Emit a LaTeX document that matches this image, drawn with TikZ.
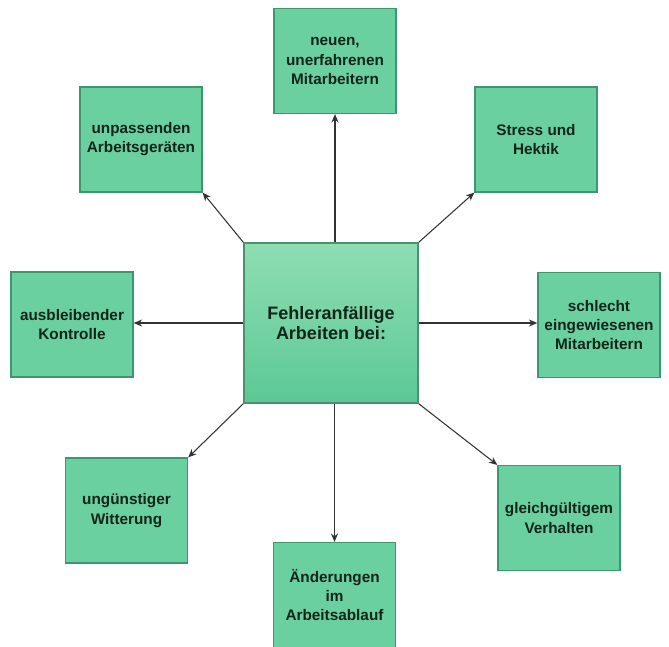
\documentclass[tikz,border=0pt]{standalone}
\usepackage{fontspec}
\setmainfont{Liberation Sans}
\definecolor{boxgreen}{RGB}{106, 208, 160}
\definecolor{boxedge}{RGB}{62, 150, 108}
\definecolor{toplight}{RGB}{142, 222, 178}
\definecolor{botdark}{RGB}{92, 200, 150}
\definecolor{textdark}{RGB}{18, 36, 24}
\usetikzlibrary{arrows.meta, positioning}

\begin{document}
\begin{tikzpicture}[x=0.025cm, y=-0.025cm,
  causebox/.style={draw=boxedge, line width=0.9pt, fill=boxgreen, minimum width=3.05cm, minimum height=2.62cm, align=center, text=textdark, font=\fontsize{10.9}{13.6}\selectfont\bfseries},
  arr/.style={-{Stealth[length=6pt, width=5pt]}, draw=black!80, line width=0.75pt}]
  \useasboundingbox (0,0) rectangle (669,646);

  % central box
  \node[draw=boxedge!80!gray, line width=0.9pt, top color=toplight, bottom color=botdark, minimum width=4.35cm, minimum height=4cm, align=center, text=textdark, font=\fontsize{12.8}{14.6}\selectfont\bfseries] (center) at (331, 323) {Fehleranfällige\\Arbeiten bei:};

  % causes
  \node[causebox] (neu) at (335, 61) {neuen,\\unerfahrenen\\Mitarbeitern};
  \node[causebox] (geraete) at (141, 139.5) {unpassenden\\Arbeitsgeräten};
  \node[causebox] (stress) at (536, 139.5) {Stress und\\Hektik};
  \node[causebox] (kontrolle) at (72, 324.5) {ausbleibender\\Kontrolle};
  \node[causebox] (eingewiesen) at (599, 325) {schlecht\\eingewiesenen\\Mitarbeitern};
  \node[causebox] (witterung) at (126.5, 510.5) {ungünstiger\\Witterung};
  \node[causebox] (verhalten) at (559, 518) {gleichgültigem\\Verhalten};
  \node[causebox] (ablauf) at (334.5, 595) {Änderungen\\im\\Arbeitsablauf};

  % arrows
  \draw[arr] (neu.south |- center.north) -- (neu.south);
  \draw[arr] (center.north west) -- (geraete.south east);
  \draw[arr] (center.north east) -- (stress.south west);
  \draw[arr] (center.west) -- (center.west -| kontrolle.east);
  \draw[arr] (center.east) -- (center.east -| eingewiesen.west);
  \draw[arr] (center.south west) -- (witterung.north east);
  \draw[arr] (center.south east) -- (verhalten.north west);
  \draw[arr] (ablauf.north |- center.south) -- (ablauf.north);
\end{tikzpicture}
\end{document}
